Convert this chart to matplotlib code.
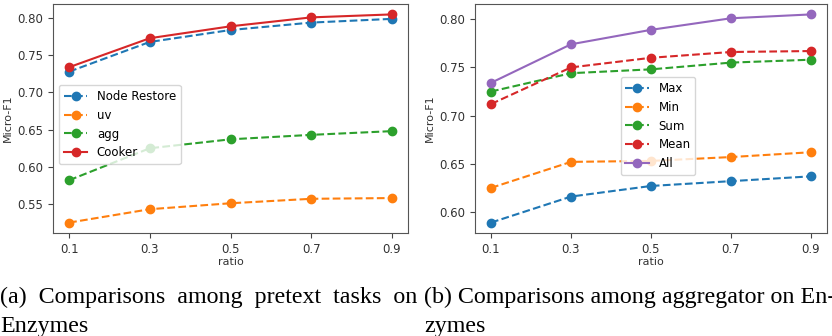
import matplotlib.pyplot as plt

ratio = [0.1, 0.3, 0.5, 0.7, 0.9]
ratio_labels = ['0.1', '0.3', '0.5', '0.7', '0.9']

# (a) pretext tasks
node_restore = [0.728, 0.768, 0.784, 0.794, 0.799]
uv = [0.525, 0.543, 0.551, 0.557, 0.558]
agg = [0.582, 0.625, 0.637, 0.643, 0.648]
cooker = [0.734, 0.773, 0.789, 0.801, 0.805]

# (b) aggregators
agg_max = [0.589, 0.616, 0.627, 0.632, 0.637]
agg_min = [0.625, 0.652, 0.653, 0.657, 0.662]
agg_sum = [0.725, 0.744, 0.748, 0.755, 0.758]
agg_mean = [0.712, 0.750, 0.760, 0.766, 0.767]
agg_all = [0.734, 0.774, 0.789, 0.801, 0.805]

W, H = 832, 336
fig = plt.figure(figsize=(W / 100, H / 100), dpi=100)

ax1 = fig.add_axes([53 / W, (H - 233) / H, 355 / W, 229 / H])
ax2 = fig.add_axes([475 / W, (H - 233) / H, 352 / W, 229 / H])

kw = dict(marker='o', markersize=6, linewidth=1.5)
ax1.plot(ratio, node_restore, '--', color='#1f77b4', label='Node Restore', **kw)
ax1.plot(ratio, uv, '--', color='#ff7f0e', label='uv', **kw)
ax1.plot(ratio, agg, '--', color='#2ca02c', label='agg', **kw)
ax1.plot(ratio, cooker, '-', color='#d62728', label='Cooker', **kw)

ax2.plot(ratio, agg_max, '--', color='#1f77b4', label='Max', **kw)
ax2.plot(ratio, agg_min, '--', color='#ff7f0e', label='Min', **kw)
ax2.plot(ratio, agg_sum, '--', color='#2ca02c', label='Sum', **kw)
ax2.plot(ratio, agg_mean, '--', color='#d62728', label='Mean', **kw)
ax2.plot(ratio, agg_all, '-', color='#9467bd', label='All', **kw)

for ax in (ax1, ax2):
    ax.set_xticks(ratio)
    ax.set_xticklabels(ratio_labels)
    ax.tick_params(labelsize=8.5, color='#444444', labelcolor='#333333')
    ax.set_xlabel('ratio', fontsize=8, color='#333333', labelpad=1)
    ax.set_ylabel('Micro-F1', fontsize=8, color='#333333', labelpad=3)
    for s in ax.spines.values():
        s.set_color('#555555')

ax1.legend(loc='upper left', bbox_to_anchor=(0.017, 0.646), borderaxespad=0,
           fontsize=8.5, framealpha=0.8)
ax2.legend(loc='upper left', bbox_to_anchor=(0.414, 0.681), borderaxespad=0,
           fontsize=8.5, framealpha=0.8)

cap = dict(family='Liberation Serif', fontsize=17.3, va='baseline', ha='left')
fig.text(0 / W, 1 - 303 / H, '(a)  Comparisons  among  pretext  tasks  on', **cap)
fig.text(0 / W, 1 - 332 / H, 'Enzymes', **cap)
fig.text(424 / W, 1 - 303 / H, '(b) Comparisons among aggregator on En-', **cap)
fig.text(424 / W, 1 - 332 / H, 'zymes', **cap)

fig.savefig('out.png', dpi=100)
